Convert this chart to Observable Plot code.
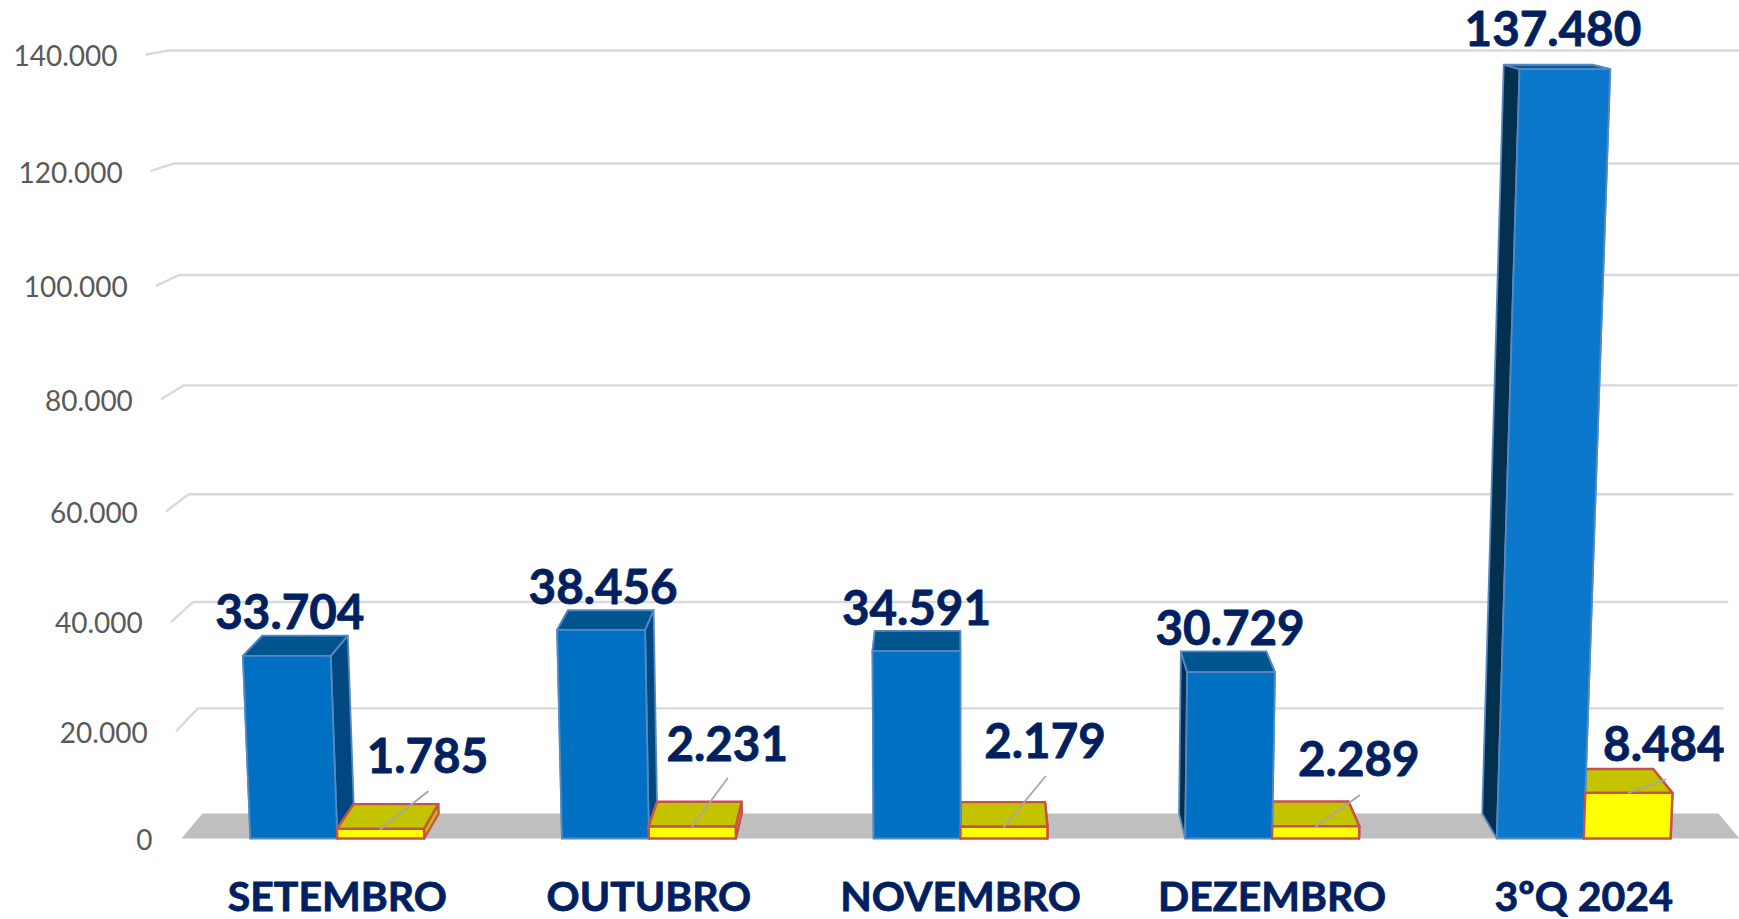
<!DOCTYPE html>
<html>
<head>
<meta charset="utf-8">
<style>html,body{margin:0;padding:0;background:#fff}svg{display:block}</style>
<script src="https://cdn.jsdelivr.net/npm/d3@7"></script>
<script src="https://cdn.jsdelivr.net/npm/@observablehq/plot@0.6"></script>
</head>
<body>
<div id="chart"></div>
<script>
const categories = ["SETEMBRO", "OUTUBRO", "NOVEMBRO", "DEZEMBRO", "3ºQ 2024"];
const blueValues = [33704, 38456, 34591, 30729, 137480];
const yellowValues = [1785, 2231, 2179, 2289, 8484];
const tickValues = [0, 20000, 40000, 60000, 80000, 100000, 120000, 140000];
// hand-placed data labels of the original: pixel nudges and leader-line ends
const blueNudgeX = [3, 2, 0, -1, -12];
const blueNudgeY = [-42, -41, -41, -42, -38];
const yellowNudgeX = [47, 35, 41, 43, 35];
const yellowNudgeY = [-71, -81, -84, -65, -47];
const leaderEndValue = [8740, 11150, 11520, 8000, 10966];
const leaderEndShift = [0.0312, 0.023, 0.0264, 0.0275, 0.023];

const maxValue = 140000, barWidth = 0.0558;
const fmt = d3.formatLocale({decimal: ",", thousands: ".", grouping: [3], currency: ["", ""]}).format(",");

// Perspective projection: (column 0–1, value, depth 0–1) → picture
const perspective = d3.geoTransform({
  point(u, v, w = 0) {
    const t = v / maxValue;
    const D = 1 - 0.0424 * t + 0.0277 * w;
    this.stream.point(
      (181 + 1558 * u - 41.2 * t + 26.5 * w) / D,
      (838 - 786.3 * t - 2.5 * w) / D
    );
  }
});

const ring = (...pts) => ({type: "Polygon", coordinates: [[...pts, pts[0]]]});
function box(u0, u1, v, c) {
  const s = {stroke: c.stroke, width: c.width};
  return [
    {geometry: ring([u0,0,0],[u0,0,1],[u0,v,1],[u0,v,0]), fill: c.left, ...s},
    {geometry: ring([u1,0,0],[u1,0,1],[u1,v,1],[u1,v,0]), fill: c.right, ...s},
    {geometry: ring([u0,v,0],[u1,v,0],[u1,v,1],[u0,v,1]), fill: c.top, ...s},
    {geometry: ring([u0,0,0],[u1,0,0],[u1,v,0],[u0,v,0]), fill: c.front, ...s}
  ];
}
const uMid = i => (i + 0.5) / categories.length;
const blueStyle = i => ({
  left: "#03304f", right: "#00487f", top: i === 4 ? "#0a5c9c" : "#00558f",
  front: i === 4 ? "#0b78cc" : "#0070c2", stroke: "#5688c4", width: 1.8
});
const yellowStyle = {left: "#c3c300", right: "#c3c300", top: "#c3c300", front: "#ffff00", stroke: "#c9504c", width: 2.4};

const faces = categories.flatMap((_, i) => {
  const blue = box(uMid(i) - barWidth, uMid(i), blueValues[i], blueStyle(i));
  const yellow = box(uMid(i), uMid(i) + barWidth, yellowValues[i], yellowStyle);
  // the yellow front face always stays in front of its neighbour
  return i < 2 ? [...blue, ...yellow] : [...yellow.slice(0, 3), ...blue, yellow[3]];
});

const floor = [{geometry: ring([0,0,0],[1,0,0],[1,0,1],[0,0,1])}];
const grid = tickValues.filter(v => v > 0).map(v => ({type: "LineString", coordinates: [[0,v,0],[0,v,1],[1,v,1]]}));
const leaders = categories.map((_, i) => ({type: "LineString", coordinates: [
  [uMid(i) + barWidth / 2, yellowValues[i], 0],
  [uMid(i) + barWidth / 2 + leaderEndShift[i], leaderEndValue[i], 0]
]}));

const font = "Lato";
const heavy = {fontWeight: 700, fill: "#002060", stroke: "#002060", strokeWidth: 0.8, fontFamily: font};
const chart = Plot.plot({
  width: 1739,
  height: 919,
  margin: 0,
  projection: perspective,
  style: {background: "#fff", fontFamily: font},
  color: {type: "identity"},
  marks: [
    Plot.geo(floor, {geometry: d => d.geometry, fill: "#bfbfbf", stroke: "none"}),
    Plot.geo(grid, {stroke: "#d9d9d9", strokeWidth: 2.4, fill: "none"}),
    Plot.geo(faces, {geometry: d => d.geometry, fill: d => d.fill, stroke: d => d.stroke, strokeWidth: d => d.width, strokeLinejoin: "round"}),
    Plot.geo(leaders, {stroke: "#a6a6a6", strokeWidth: 1.8, fill: "none"}),
    Plot.text(tickValues, {
      x: () => 0, y: d => d, text: d => fmt(d),
      textAnchor: "end", dx: -29, dy: 3,
      fontSize: 28, fill: "#595959", fontFamily: font
    }),
    Plot.text(categories, {
      x: (_, i) => uMid(i), y: () => 0, text: d => d,
      dy: 59, fontSize: 41, ...heavy
    }),
    ...categories.map((_, i) => Plot.text([blueValues[i]], {
      x: () => uMid(i) - barWidth / 2, y: d => d, text: d => fmt(d),
      dx: blueNudgeX[i], dy: blueNudgeY[i],
      fontSize: 47.5, ...heavy
    })),
    ...categories.map((_, i) => Plot.text([yellowValues[i]], {
      x: () => uMid(i) + barWidth / 2, y: d => d, text: d => fmt(d),
      dx: yellowNudgeX[i], dy: yellowNudgeY[i],
      fontSize: 47.5, ...heavy
    }))
  ]
});
document.getElementById("chart").append(chart);
</script>
</body>
</html>
